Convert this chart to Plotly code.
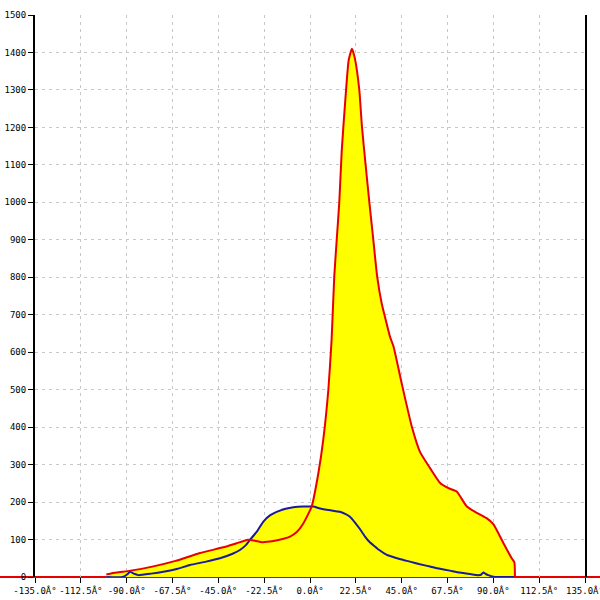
import plotly.graph_objects as go

# Red series (filled yellow)
red_x = [-100, -95, -88, -78, -66, -54, -42, -36, -31, -27, -23.5, -18, -13, -9.8, -6.5, -3.3,
         0.8, 4.1, 6.5, 9, 10.6, 11.9, 13.1, 14.4, 15.6, 17.7, 19, 20.6, 22, 24.2, 25.5, 27.3,
         29.1, 31.1, 33, 35.2, 37, 39.3, 41, 45, 50, 54, 59, 64, 68, 72, 77, 81, 86.7, 90, 95,
         99, 100.3, 100.6]
red_y = [7, 12, 17, 27, 43, 64, 80, 90, 99, 97, 93, 96, 102, 108, 120, 143,
         188, 277, 366, 499, 633, 801, 899, 1002, 1140, 1300, 1380, 1410, 1385, 1300, 1202, 1100,
         1002, 899, 801, 730, 690, 641, 615, 517, 401, 334, 290, 250, 237, 228, 188, 174, 157, 141, 90,
         50, 40, 0]

# Blue series
blue_x = [-100, -92, -89.5, -88.4, -86, -84.3, -78, -72, -65, -58.9, -51, -44.2, -38, -34.4, -31.5,
          -29.5, -26, -22.9, -19.5, -16.4, -12, -8.2, -3.3, 1.6, 4.9, 10, 14.7, 17.5, 19.6, 22, 24.5,
          27, 29.5, 31.1, 34, 37.7, 39.3, 44, 49.1, 54, 58.9, 63.8, 68.7, 73.5, 78.5, 82.6, 84, 85.1,
          86.3, 87.5, 90, 100.5]
blue_y = [0, 0, 8, 14, 8, 5, 9, 14, 22, 32, 41, 50, 62, 72, 85,
          99, 122, 148, 165, 174, 182, 186, 188, 188, 183, 178, 174, 168, 161, 146, 128,
          108, 92, 85, 72, 59, 56, 48, 41, 34, 28, 22, 17, 12, 8, 5, 6, 12,
          8, 5, 1, 0]

x_ticks = [-135, -112.5, -90, -67.5, -45, -22.5, 0, 22.5, 45, 67.5, 90, 112.5, 135]
x_labels = ["-135.0Â°", "-112.5Â°", "-90.0Â°", "-67.5Â°", "-45.0Â°", "-22.5Â°", "0.0Â°",
            "22.5Â°", "45.0Â°", "67.5Â°", "90.0Â°", "112.5Â°", "135.0Â°"]
y_ticks = list(range(0, 1501, 100))

YELLOW = "#ffff00"
RED = "#e80000"
BLUE = "#1a1a9c"

fig = go.Figure()
# fills first
fig.add_trace(go.Scatter(x=red_x, y=red_y, mode="lines", fill="tozeroy", fillcolor=YELLOW,
                         line=dict(width=0, color=YELLOW), hoverinfo="skip", showlegend=False))
fig.add_trace(go.Scatter(x=blue_x, y=blue_y, mode="lines", fill="tozeroy", fillcolor=YELLOW,
                         line=dict(width=0, color=YELLOW), hoverinfo="skip", showlegend=False))
# lines on top
fig.add_trace(go.Scatter(x=blue_x, y=blue_y, mode="lines",
                         line=dict(width=2, color=BLUE, shape="spline", smoothing=0.5), showlegend=False))
fig.add_trace(go.Scatter(x=red_x, y=red_y, mode="lines",
                         line=dict(width=2, color=RED, shape="spline", smoothing=0.5), showlegend=False))

# red zero line spanning the full width
fig.add_shape(type="line", xref="paper", yref="paper", x0=-35 / 550, x1=565 / 550, y0=0, y1=0,
              line=dict(color=RED, width=2), layer="below")

font = dict(family="DejaVu Sans Mono", size=9, color="black")

# last tick label (runs off the right edge, as in the original)
fig.add_annotation(x=x_ticks[-1], y=0, xref="x", yref="paper", text=x_labels[-1],
                   showarrow=False, xanchor="center", yanchor="top", yshift=-6, font=font)

fig.update_layout(
    width=600, height=600,
    margin=dict(l=35, r=15, t=15, b=23, autoexpand=False),
    paper_bgcolor="white", plot_bgcolor="white",
    font=font,
    xaxis=dict(range=[-135, 135], tickvals=x_ticks, ticktext=x_labels, ticks="outside",
               ticklen=5, tickcolor="black", showline=False, zeroline=False, tickangle=0,
               automargin=False,
               showgrid=True, gridcolor="#c8c8c8", griddash="3px,4px", gridwidth=1,
               tickfont=font),
    yaxis=dict(range=[0, 1500], tickvals=y_ticks, ticks="outside", ticklen=5, tickcolor="black",
               showline=True, linecolor="black", linewidth=2, mirror=True, zeroline=False,
               automargin=False,
               showgrid=True, gridcolor="#c8c8c8", griddash="3px,4px", gridwidth=1,
               tickfont=font),
)

fig.write_html("out.html", config={"displayModeBar": False},
               post_script="document.body.style.margin='0';document.body.style.overflow='hidden';")
